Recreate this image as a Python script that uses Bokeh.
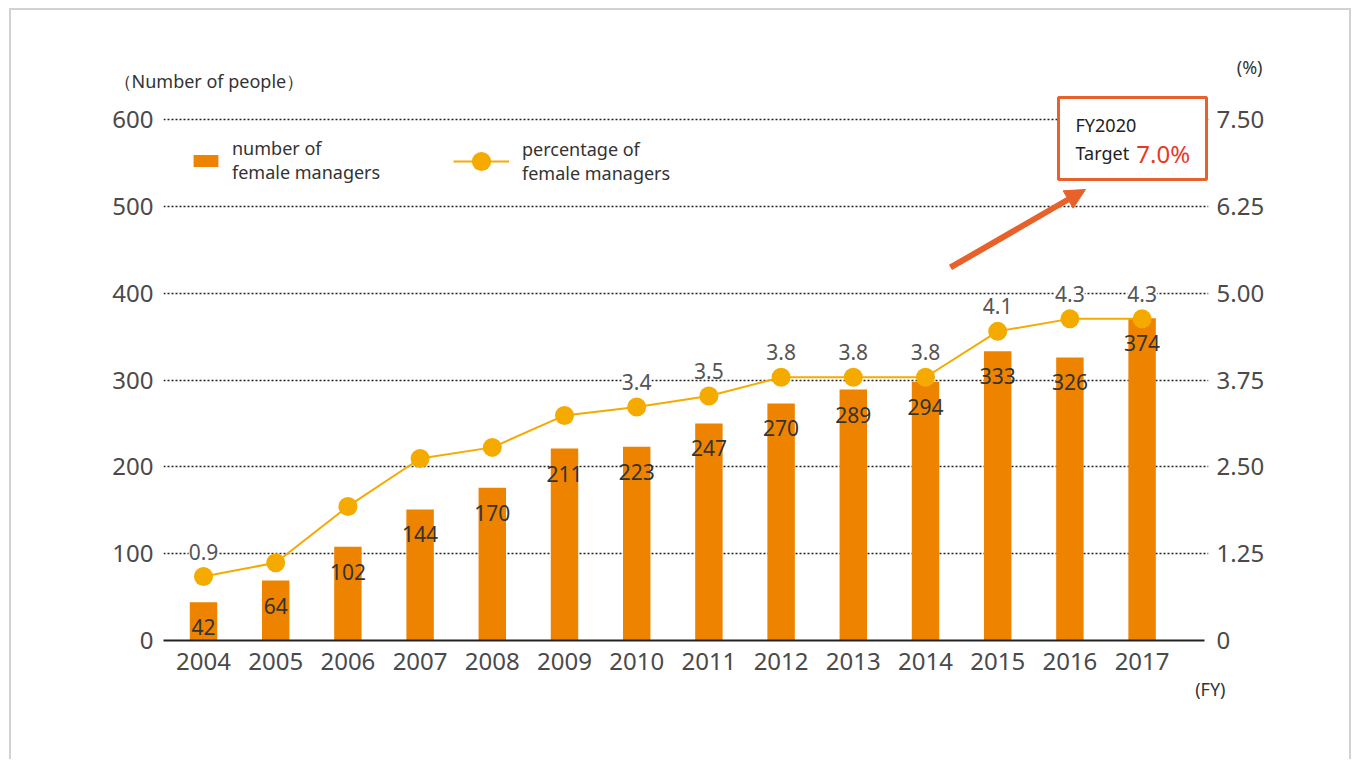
from bokeh.plotting import figure
from bokeh.models import (Range1d, LinearAxis, FixedTicker, ColumnDataSource, LabelSet,
                          Label, BoxAnnotation, Arrow, NormalHead, Legend, LegendItem, Title)
from bokeh.core.properties import value
from bokeh.embed import file_html
from bokeh.resources import INLINE

# ---------------- data ----------------
years = [2004, 2005, 2006, 2007, 2008, 2009, 2010, 2011, 2012, 2013, 2014, 2015, 2016, 2017]
managers = [44, 69, 108, 151, 176, 221, 223, 250, 273, 289, 298, 333, 326, 371]
manager_labels = ["42", "64", "102", "144", "170", "211", "223", "247", "270", "289", "294", "333", "326", "374"]
percentage = [0.92, 1.12, 1.93, 2.62, 2.78, 3.24, 3.36, 3.52, 3.79, 3.79, 3.79, 4.45, 4.63, 4.63]
percentage_labels = ["0.9", "", "", "", "", "", "3.4", "3.5", "3.8", "3.8", "3.8", "4.1", "4.3", "4.3"]
left_ticks = [0, 100, 200, 300, 400, 500, 600]
right_ticks = [0, 1.25, 2.5, 3.75, 5.0, 6.25, 7.5]
right_tick_labels = ["0", "1.25", "2.50", "3.75", "5.00", "6.25", "7.50"]

FONT = "Noto Sans"
BAR_C = "#EE8300"
LINE_C = "#F5AA00"
ACCENT = "#E8602A"
GRAY = "#d2d2d2"
TICK_C = "#4a4a4a"

W, H = 1352, 759
# frame: x 163..1208, y 95..640 (px); 600 people at y=119
PX_PER_UNIT = 521 / 600.0
Y_END = (640 - 95) / PX_PER_UNIT
X0 = 2004 - 40 / 72.2
X1 = 2004 + (1208 - 203) / 72.2

bg = (f"linear-gradient({GRAY},{GRAY}) 9px 8px / 2px {H}px no-repeat, "
      f"linear-gradient({GRAY},{GRAY}) 9px 8px / {W - 10}px 2px no-repeat, "
      f"linear-gradient({GRAY},{GRAY}) {W - 3}px 8px / 2px {H}px no-repeat, #ffffff")

p = figure(width=W, height=H, output_backend="svg", toolbar_location=None, title=None,
           x_range=Range1d(X0, X1), y_range=Range1d(0, Y_END),
           min_border_left=163, min_border_right=W - 1208, min_border_top=95, min_border_bottom=119,
           outline_line_color=None, background_fill_color="white", border_fill_alpha=0,
           styles={"background": bg})
p.extra_y_ranges = {"pct": Range1d(0, Y_END * 7.5 / 600)}

src = ColumnDataSource(dict(x=years, n=managers, nl=manager_labels, pct=percentage))

bars = p.vbar(x="x", top="n", width=0.38, source=src, fill_color=BAR_C, line_color=None)
line = p.line(x="x", y="pct", source=src, y_range_name="pct", line_color=LINE_C, line_width=2)
dots = p.scatter(x="x", y="pct", source=src, y_range_name="pct", size=19,
                 fill_color=LINE_C, line_color=None)

p.text(x="x", y="n", text="nl", source=src, text_align="center", text_baseline="middle",
       y_offset=25, text_font=value(FONT), text_font_size="21px", text_color="#333333")

idx = [i for i, t in enumerate(percentage_labels) if t]
psrc = ColumnDataSource(dict(x=[years[i] for i in idx], y=[percentage[i] for i in idx],
                             t=[percentage_labels[i] for i in idx]))
p.add_layout(LabelSet(x="x", y="y", text="t", source=psrc, y_range_name="pct",
                      text_align="center", text_baseline="middle", y_offset=25,
                      text_font=value(FONT), text_font_size="21px", text_color="#555555",
                      background_fill_color="white"))

# axes
p.xaxis.ticker = FixedTicker(ticks=years)
p.xaxis.bounds = (X0, 2004 + (1204 - 203) / 72.2)
p.xaxis.axis_line_color = "#222222"
p.xaxis.axis_line_width = 2
p.xaxis.major_tick_line_color = None
p.xaxis.minor_tick_line_color = None
p.xaxis.major_label_text_font = FONT
p.xaxis.major_label_text_font_size = "24px"
p.xaxis.major_label_text_color = TICK_C
p.xaxis.major_label_standoff = 6

p.yaxis.ticker = FixedTicker(ticks=left_ticks)
p.yaxis.axis_line_color = None
p.yaxis.major_tick_line_color = None
p.yaxis.minor_tick_line_color = None
p.yaxis.major_label_text_font = FONT
p.yaxis.major_label_text_font_size = "24px"
p.yaxis.major_label_text_color = TICK_C
p.yaxis.major_label_standoff = 4

ry = LinearAxis(y_range_name="pct", ticker=FixedTicker(ticks=right_ticks),
                major_label_overrides={t: l for t, l in zip(right_ticks, right_tick_labels)},
                axis_line_color=None, major_tick_line_color=None, minor_tick_line_color=None,
                major_label_text_font=FONT, major_label_text_font_size="24px",
                major_label_text_color=TICK_C, major_label_standoff=2)
p.add_layout(ry, "right")

p.xgrid.grid_line_color = None
p.ygrid.ticker = FixedTicker(ticks=left_ticks[1:])
p.ygrid.grid_line_color = "#222222"
p.ygrid.grid_line_dash = "2 2"
p.ygrid.grid_line_width = 1.5

# unit captions (titles outside the frame)
tA = Title(text="（Number of people）", align="left", offset=-50, vertical_align="bottom",
           standoff=6, text_font=FONT, text_font_size="18px", text_font_style="normal",
           text_color="#333333")
try:
    tB = Title(text="(%)", align="right", offset=-54, vertical_align="bottom", standoff=-30,
               text_font=FONT, text_font_size="18px", text_font_style="normal",
               text_color="#333333")
except Exception:
    tB = Title(text="(%)", align="right", offset=-54, vertical_align="bottom", standoff=0,
               text_font=FONT, text_font_size="18px", text_font_style="normal",
               text_color="#333333")
p.add_layout(tA, "above")
p.add_layout(tB, "above")
p.add_layout(Title(text="(FY)", align="right", offset=-17, vertical_align="top", standoff=8,
                   text_font=FONT, text_font_size="18px", text_font_style="normal",
                   text_color="#333333"), "below")

# target box & arrow
p.add_layout(BoxAnnotation(left=2015.842, right=2017.892, top=625.4, bottom=530.9,
                           fill_color="white", fill_alpha=1, line_color=ACCENT, line_alpha=1,
                           line_width=3))
p.add_layout(Label(x=2016.078, y=594, text="FY2020", text_baseline="middle",
                   text_font=FONT, text_font_size="18px", text_color="#222222"))
p.add_layout(Label(x=2016.078, y=560.9, text="Target", text_baseline="middle",
                   text_font=FONT, text_font_size="18px", text_color="#222222"))
p.add_layout(Label(x=2016.92, y=560.9, text="7.0%", text_baseline="middle",
                   text_font=FONT, text_font_size="24px", text_color="#E8382A"))
p.add_layout(Arrow(x_start=2014.346, y_start=429.6, x_end=2016.216, y_end=519.4,
                   line_color=ACCENT, line_width=6,
                   end=NormalHead(size=20, fill_color=ACCENT, line_color=ACCENT)))

# legends
for items, loc, gw, gh, standoff in [
    ([LegendItem(label="number of\nfemale managers", renderers=[bars])], (27, 456), 31, 15, 11),
    ([LegendItem(label="percentage of\nfemale managers", renderers=[line, dots])], (290, 455), 56, 48, 13),
]:
    lg = Legend(items=items, location=loc, glyph_width=gw, glyph_height=gh,
                label_standoff=standoff, padding=0, margin=0, border_line_color=None,
                background_fill_alpha=0, label_text_font=FONT, label_text_font_size="18px",
                label_text_color="#333333", label_text_line_height=1.15)
    p.add_layout(lg)

open("out.html", "w").write(file_html(p, INLINE))
